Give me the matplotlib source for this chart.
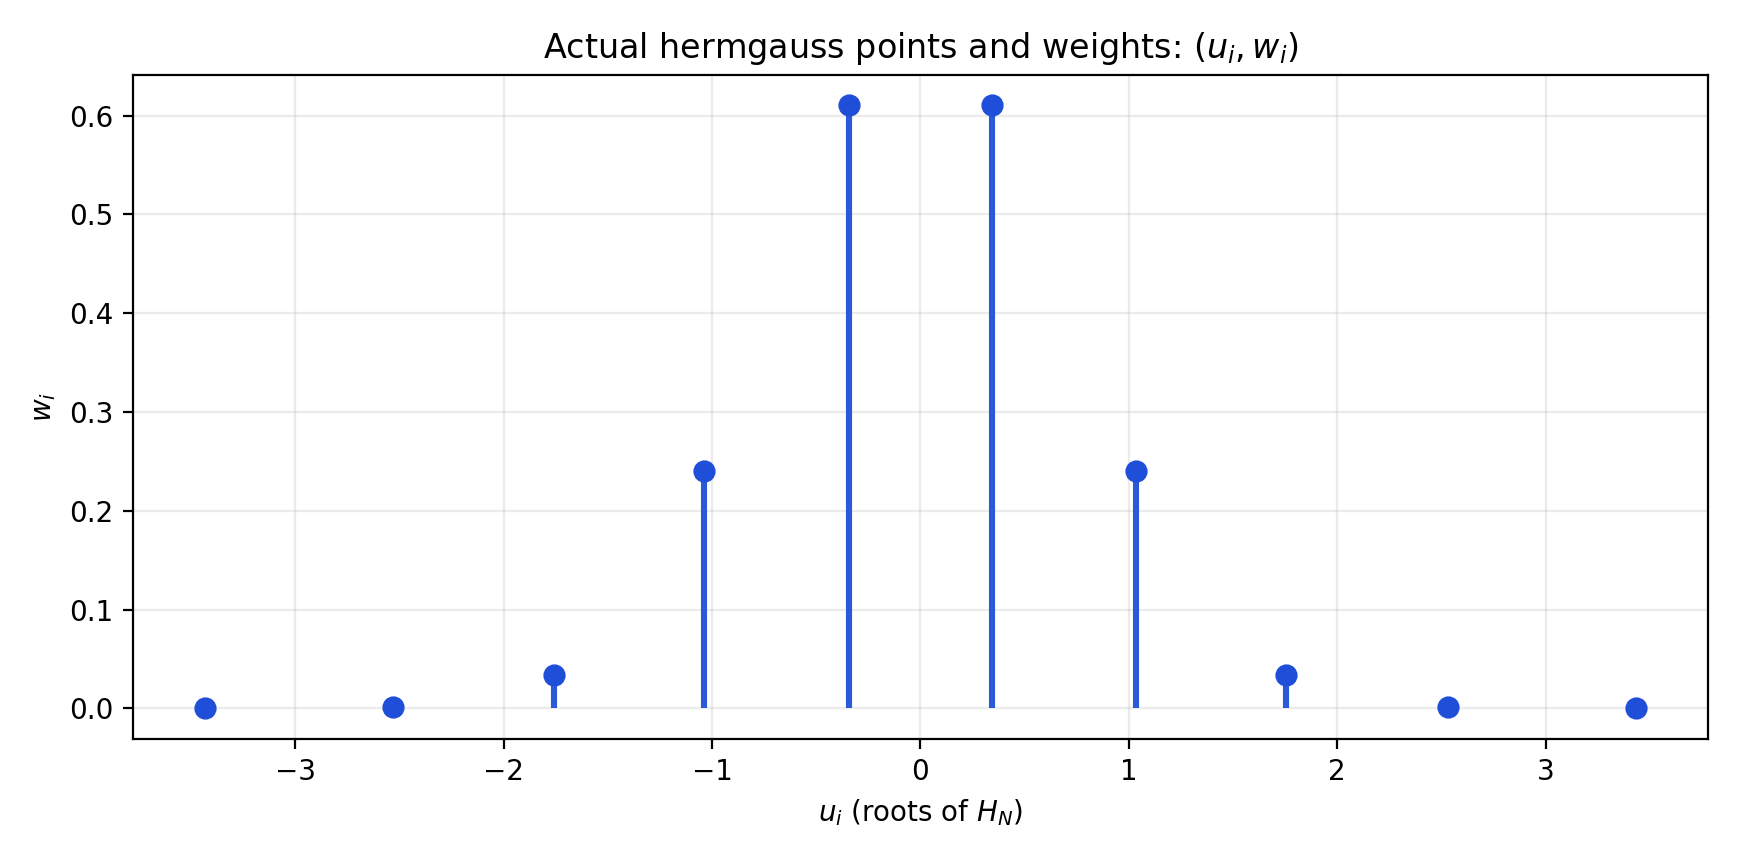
import matplotlib
matplotlib.use("Agg")
import matplotlib.pyplot as plt

u = [-3.4361591, -2.5327317, -1.7566836, -1.0366108, -0.3429013,
     0.3429013, 1.0366108, 1.7566836, 2.5327317, 3.4361591]
w = [7.640433e-06, 1.343646e-03, 3.387439e-02, 2.401386e-01, 6.108626e-01,
     6.108626e-01, 2.401386e-01, 3.387439e-02, 1.343646e-03, 7.640433e-06]

fig, ax = plt.subplots(figsize=(8.69, 4.29), dpi=200)
ml, sl, bl = ax.stem(u, w, basefmt=" ")
plt.setp(sl, color="#2a5ad9", linewidth=2.2)
plt.setp(ml, color="#1f4fd8", markersize=7)
ax.set_title(r"Actual hermgauss points and weights: $(u_i, w_i)$")
ax.set_xlabel(r"$u_i$ (roots of $H_N$)")
ax.set_ylabel(r"$w_i$")
ax.grid(True, alpha=0.25)
fig.tight_layout()
fig.savefig("out.png", dpi=200)
